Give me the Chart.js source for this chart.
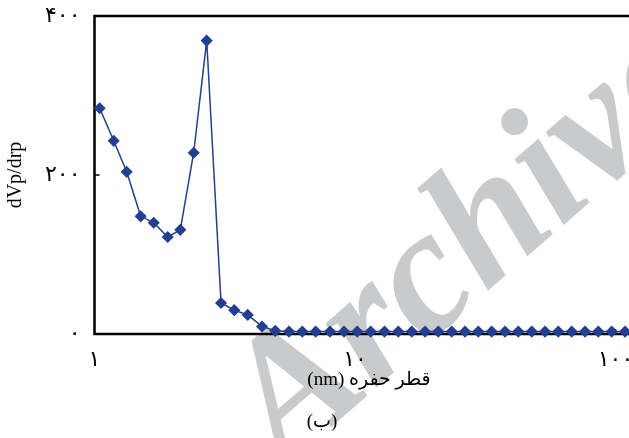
<!doctype html>
<html lang="fa">
<head>
<meta charset="utf-8">
<title>dVp/drp</title>
<script src="https://cdn.jsdelivr.net/npm/chart.js@4.4.1/dist/chart.umd.min.js"></script>
<style>
	html, body { margin: 0; padding: 0; background: #fff; overflow: hidden; }
	#wrap { width: 920px; height: 438px; }
</style>
</head>
<body>
<div id="wrap"><canvas id="c" width="920" height="438"></canvas></div>

<script>
	// pore diameter (nm) and dVp/drp
	var poreSize = [1.047, 1.185, 1.329, 1.504, 1.688, 1.910, 2.135, 2.403, 2.696, 3.060,
		3.441, 3.874, 4.395, 4.943, 5.580, 6.277, 7.066, 8.017, 9.075, 10.20,
		11.49, 12.98, 14.66, 16.51, 18.57, 20.88, 23.51, 26.44, 29.74, 33.48,
		37.65, 42.36, 47.69, 53.62, 60.31, 67.91, 76.37, 85.91, 96.69, 108.8];
	var dVpdrp = [284, 243, 204, 148, 140, 122, 131, 228, 369, 39,
		30, 24, 9.5, 4, 3, 3, 3, 3, 3, 3,
		3, 3, 3, 3, 3, 3, 3, 3, 3, 3,
		3, 3, 3, 3, 3, 3, 3, 3, 3, 3];
	var xTicks = [1, 10, 100, 1000];
	var yTicks = [0, 200, 400];

	var faDigits = '۰۱۲۳۴۵۶۷۸۹';
	function fa(n) { return String(n).replace(/\d/g, function (d) { return faDigits[d]; }); }

	var serif = "'Liberation Serif', 'DejaVu Serif', 'DejaVu Sans', serif";

	var points = poreSize.map(function (x, i) { return { x: x, y: dVpdrp[i] }; });

	// grey watermark, painted first so everything else sits on top
	var watermark = {
		id: 'watermark',
		beforeDraw: function (chart) {
			var ctx = chart.ctx;
			ctx.save();
			ctx.translate(284, 468);
			ctx.rotate(-41 * Math.PI / 180);
			ctx.fillStyle = '#c9cacc';
			ctx.font = 'italic bold 178px ' + serif;
			ctx.textBaseline = 'alphabetic';
			ctx.fillText('Archive', 0, 0);
			ctx.restore();
		}
	};

	// box around the plot, inward tick marks, and the captions
	var frame = {
		id: 'frame',
		beforeDatasetsDraw: function (chart) {
			var ctx = chart.ctx, a = chart.chartArea;
			var xs = chart.scales.x, ys = chart.scales.y;
			ctx.save();
			ctx.strokeStyle = '#000';
			ctx.lineWidth = 2.5;
			ctx.strokeRect(a.left, a.top, a.right - a.left, a.bottom - a.top);
			ctx.lineWidth = 1.5;
			ctx.beginPath();
			yTicks.forEach(function (v) {
				var py = ys.getPixelForValue(v);
				ctx.moveTo(a.left, py); ctx.lineTo(a.left + 5, py);
			});
			xTicks.forEach(function (v) {
				var px = xs.getPixelForValue(v);
				ctx.moveTo(px, a.bottom); ctx.lineTo(px, a.bottom - 5);
			});
			ctx.stroke();
			ctx.restore();
		},
		afterDraw: function (chart) {
			var ctx = chart.ctx;
			ctx.save();
			ctx.fillStyle = '#000';
			ctx.textAlign = 'center';
			ctx.textBaseline = 'middle';
			ctx.font = '19px ' + serif;
			ctx.direction = 'rtl';
			ctx.fillText('قطر حفره (nm)', 369, 380);
			ctx.fillText('(ب)', 322, 422);
			ctx.restore();
		}
	};

	new Chart(document.getElementById('c'), {
		type: 'scatter',
		data: {
			datasets: [{
				data: points,
				showLine: true,
				borderColor: '#233f92',
				backgroundColor: '#233f92',
				borderWidth: 1.5,
				pointStyle: 'rectRot',
				pointRadius: 5,
				pointHoverRadius: 5,
				clip: false
			}]
		},
		plugins: [watermark, frame],
		options: {
			responsive: false,
			devicePixelRatio: 1,
			animation: false,
			layout: { padding: { top: 16, left: 0, right: 44, bottom: 0 } },
			plugins: { legend: { display: false }, tooltip: { enabled: false } },
			scales: {
				x: {
					type: 'logarithmic',
					min: 1,
					max: 1000,
					afterBuildTicks: function (s) { s.ticks = xTicks.map(function (v) { return { value: v }; }); },
					afterFit: function (s) { s.height = 104; s.paddingLeft = 0; s.paddingRight = 0; },
					grid: { display: false },
					border: { display: false },
					ticks: {
						color: '#000',
						padding: 5,
						maxRotation: 0,
						autoSkip: false,
						font: { family: serif, size: 22 },
						callback: function (v) { return fa(v); }
					}
				},
				y: {
					min: 0,
					max: 400,
					afterBuildTicks: function (s) { s.ticks = yTicks.map(function (v) { return { value: v }; }); },
					afterFit: function (s) { s.width = 94.5; s.paddingTop = 0; s.paddingBottom = 0; },
					grid: { display: false },
					border: { display: false },
					title: {
						display: true,
						text: 'dVp/drp',
						color: '#000',
						padding: { top: 4, bottom: 0 },
						font: { family: serif, size: 20 }
					},
					ticks: {
						color: '#000',
						padding: 6,
						font: { family: serif, size: 22 },
						callback: function (v) { return fa(v); }
					}
				}
			}
		}
	});
</script>
</body>
</html>
